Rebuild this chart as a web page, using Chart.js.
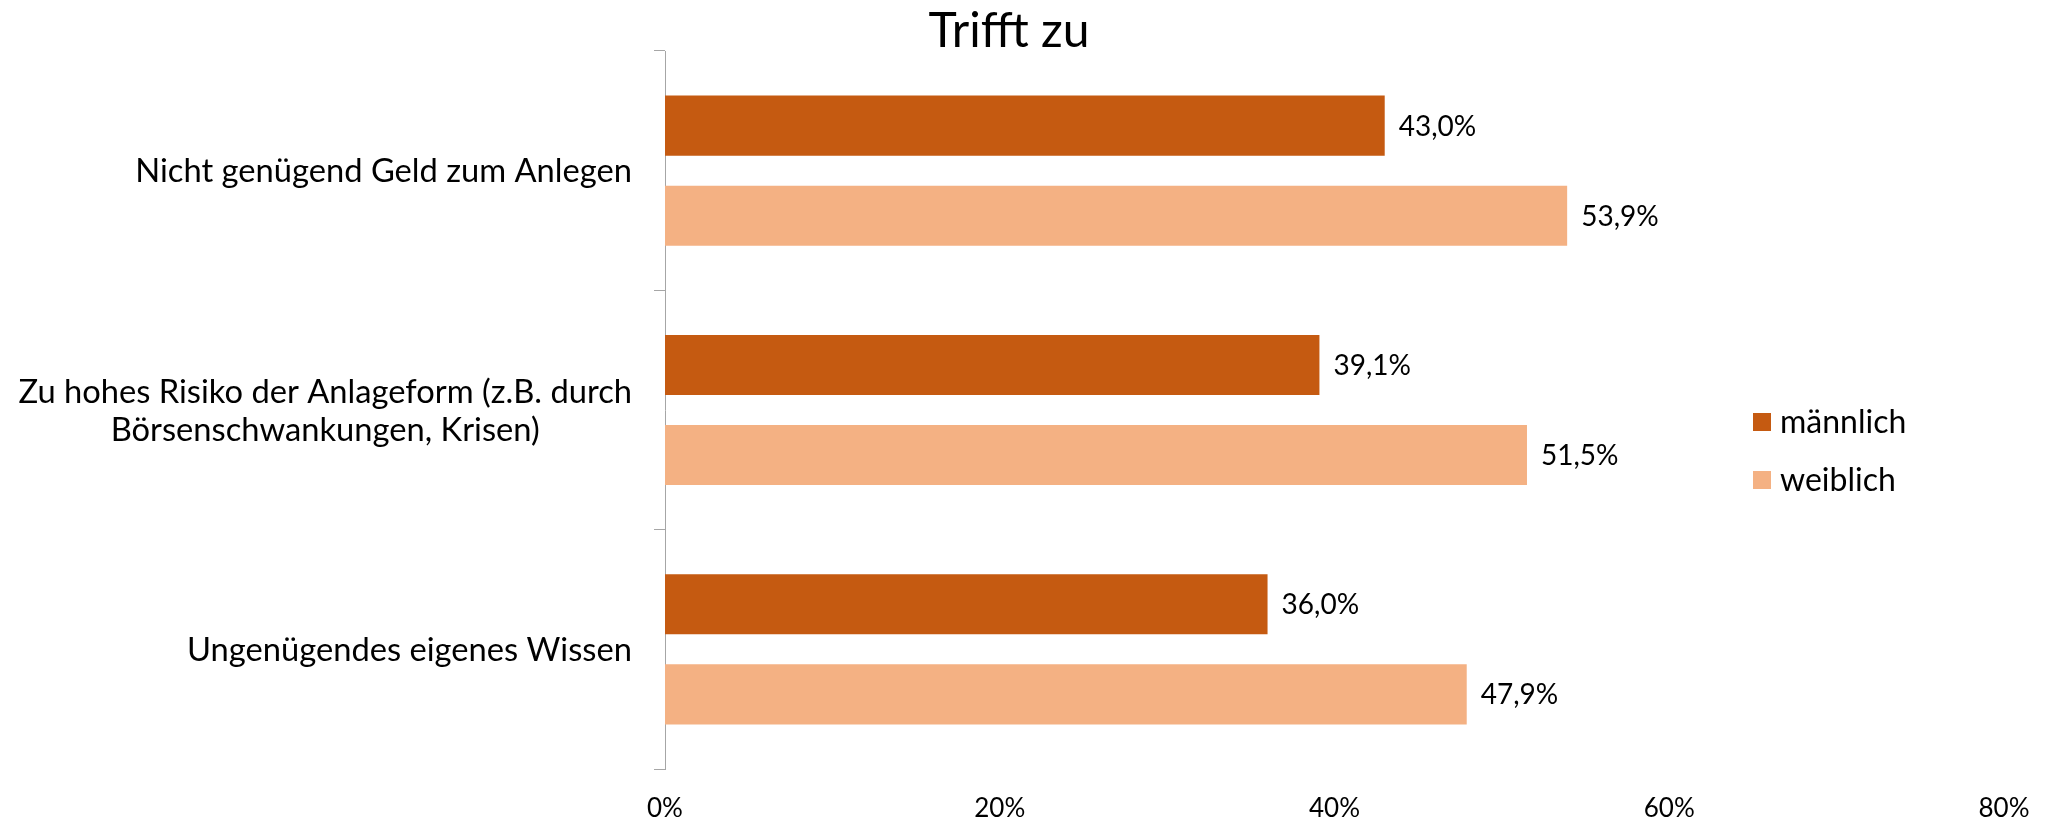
<!DOCTYPE html>
<html>
<head>
<meta charset="utf-8">
<script src="https://cdn.jsdelivr.net/npm/chart.js@4/dist/chart.umd.min.js"></script>
<style>
html, body { margin: 0; padding: 0; background: #ffffff; }
canvas { display: block; }
</style>
</head>
<body>
<canvas id="c" width="2053" height="819"></canvas>
<script>
// ---- data ----
const chartTitle = 'Trifft zu';
const categories = [
  ['Nicht genügend Geld zum Anlegen'],
  ['Zu hohes Risiko der Anlageform (z.B. durch', 'Börsenschwankungen, Krisen)'],
  ['Ungenügendes eigenes Wissen']
];
const seriesNames = ['männlich', 'weiblich'];
const maleValues = [43.0, 39.1, 36.0];
const femaleValues = [53.9, 51.5, 47.9];
const xTickValues = [0, 20, 40, 60, 80];

// ---- styles ----
const COLORS = ['#C55A11', '#F4B183'];
const FONT = 'Lato';
const TEXT = '#000000';
const AXIS = '#A6A6A6';

function fmt(v) { return v.toFixed(1).replace('.', ',') + '%'; }

const customDraw = {
  id: 'customDraw',
  afterDraw(chart) {
    const ctx = chart.ctx;
    const area = chart.chartArea;
    const ys = chart.scales.y;
    ctx.save();
    ctx.fillStyle = TEXT;

    // title
    ctx.font = '48px ' + FONT;
    ctx.textAlign = 'center';
    ctx.textBaseline = 'alphabetic';
    ctx.fillText(chartTitle, 1009, 47);

    // category labels (block right-aligned, lines centred)
    const catSize = 32.7, lh = 38.4;
    ctx.font = catSize + 'px ' + FONT;
    const rightEdge = area.left - 33;
    chart.data.labels.forEach((lines, i) => {
      const yc = ys.getPixelForValue(i);
      const w = Math.max(...lines.map(l => ctx.measureText(l).width));
      const cx = rightEdge - w / 2;
      lines.forEach((line, j) => {
        const y = yc + (j - (lines.length - 1) / 2) * lh + catSize * 0.358;
        ctx.fillText(line, cx, y);
      });
    });

    // data labels
    const dSize = 28;
    ctx.font = dSize + 'px ' + FONT;
    ctx.textAlign = 'left';
    chart.data.datasets.forEach((ds, di) => {
      const meta = chart.getDatasetMeta(di);
      meta.data.forEach((bar, i) => {
        ctx.fillText(fmt(ds.data[i]), bar.x + 14, bar.y + 10);
      });
    });

    // legend
    const lgX = 1753, lgY = [413, 471], box = 18;
    ctx.font = '32px ' + FONT;
    chart.data.datasets.forEach((ds, di) => {
      ctx.fillStyle = ds.backgroundColor;
      ctx.fillRect(lgX, lgY[di], box, box);
      ctx.fillStyle = TEXT;
      ctx.fillText(ds.label, lgX + 27, lgY[di] + 20);
    });
    ctx.restore();
  }
};

function draw() {
  new Chart(document.getElementById('c'), {
    type: 'bar',
    data: {
      labels: categories,
      datasets: [
        { label: seriesNames[0], data: maleValues, backgroundColor: COLORS[0] },
        { label: seriesNames[1], data: femaleValues, backgroundColor: COLORS[1] }
      ]
    },
    options: {
      indexAxis: 'y',
      responsive: false,
      animation: false,
      devicePixelRatio: 1,
      layout: { padding: { top: 51, right: 49, left: 0, bottom: 0 } },
      datasets: { bar: { categoryPercentage: 0.753, barPercentage: 0.667 } },
      plugins: { legend: { display: false }, title: { display: false }, tooltip: { enabled: false } },
      scales: {
        x: {
          min: 0, max: 80,
          afterBuildTicks(s) { s.ticks = xTickValues.map(v => ({ value: v })); },
          ticks: { callback: v => v + '%', font: { family: FONT, size: 26 }, color: TEXT, padding: 16, maxRotation: 0, autoSkip: false },
          grid: { display: false },
          border: { display: false },
          afterFit(s) { s.height = 50; }
        },
        y: {
          ticks: { display: false },
          grid: { drawOnChartArea: false, drawTicks: true, tickLength: 11, color: AXIS, offset: true },
          border: { color: AXIS, width: 1 },
          afterFit(s) { s.width = 665; }
        }
      }
    },
    plugins: [customDraw]
  });
}

if (document.fonts && document.fonts.load) {
  Promise.all([document.fonts.load('32px Lato'), document.fonts.load('26px Lato')]).then(draw, draw);
} else { draw(); }
</script>
</body>
</html>
